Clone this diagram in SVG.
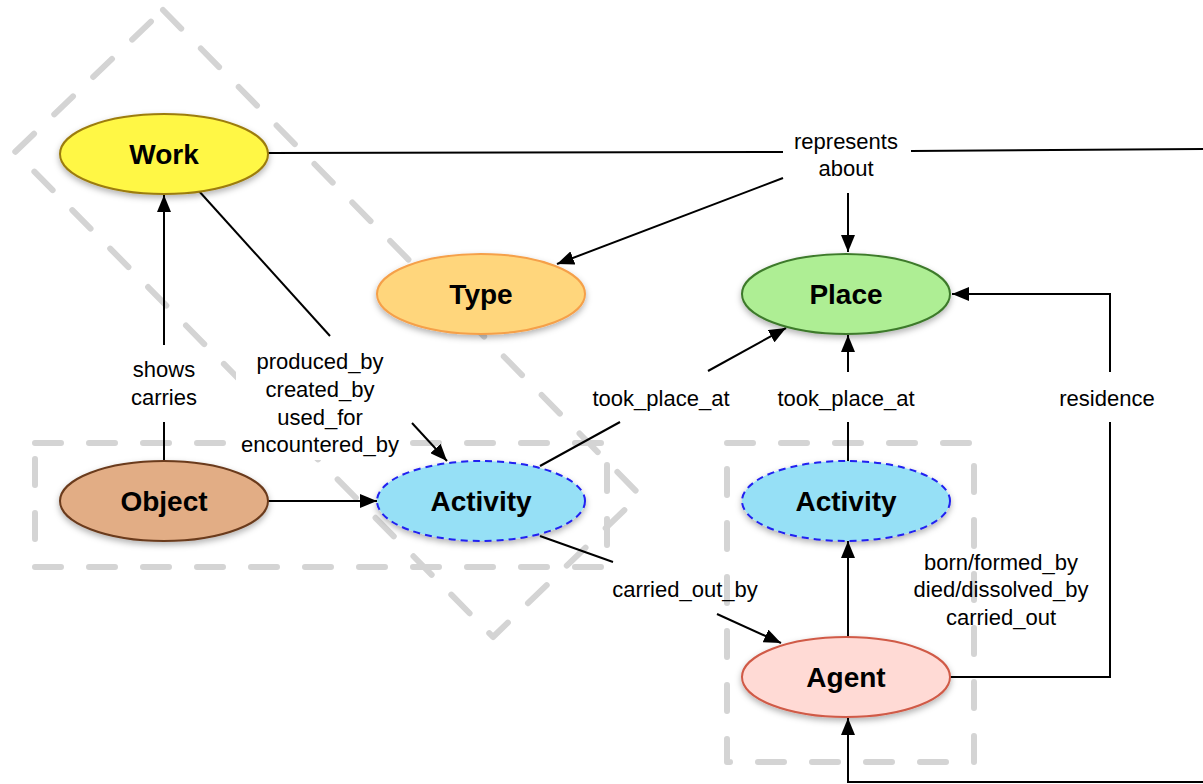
<svg xmlns="http://www.w3.org/2000/svg" width="1203" height="784" viewBox="0 0 1203 784">
<defs>
<style>
.grp{fill:none;stroke:#d4d4d4;stroke-width:6;stroke-dasharray:26 28;stroke-linecap:round;stroke-linejoin:round}
.ln{fill:none;stroke:#000;stroke-width:2}
.arr{marker-end:url(#ah)}
.nl{font-family:"Liberation Sans",Arial,sans-serif;font-weight:bold;font-size:28px;text-anchor:middle;fill:#000}
.el{font-family:"Liberation Sans",Arial,sans-serif;font-size:22px;text-anchor:middle;fill:#000}
.bg{fill:#fff}
</style>
<marker id="ah" viewBox="0 0 17 14" refX="17" refY="7" markerWidth="17" markerHeight="14" markerUnits="userSpaceOnUse" orient="auto"><path d="M0,0 L17,7 L0,14 z" fill="#000"/></marker>
<filter id="sh" x="-20%" y="-20%" width="140%" height="150%"><feDropShadow dx="0" dy="3" stdDeviation="3" flood-color="#000" flood-opacity="0.3"/></filter>
</defs>
<rect width="1203" height="784" fill="#fff"/>
<g id="groups">
<polygon class="grp" points="163,10 640,495 493,637 15,152"/>
<rect class="grp" x="35" y="443" width="572" height="124"/>
<rect class="grp" x="727" y="443" width="247" height="319"/>
</g>
<g id="connectors">
<line class="ln" x1="268" y1="153" x2="783" y2="152"/>
<line class="ln" x1="911" y1="151" x2="1203" y2="149"/>
<line class="ln arr" x1="783" y1="178" x2="557" y2="264"/>
<line class="ln arr" x1="848" y1="193" x2="848" y2="252"/>
<line class="ln" x1="198" y1="190" x2="330" y2="336"/>
<line class="ln arr" x1="412" y1="423" x2="447" y2="461"/>
<line class="ln" x1="164" y1="462" x2="164" y2="422"/>
<line class="ln arr" x1="164" y1="345" x2="164" y2="195"/>
<line class="ln arr" x1="268" y1="501" x2="377" y2="501"/>
<line class="ln" x1="540" y1="466" x2="620" y2="422"/>
<line class="ln arr" x1="708" y1="371" x2="786" y2="328"/>
<line class="ln" x1="848" y1="462" x2="848" y2="422"/>
<line class="ln arr" x1="848" y1="372" x2="848" y2="335"/>
<line class="ln" x1="540" y1="536" x2="613" y2="562"/>
<line class="ln arr" x1="717" y1="614" x2="781" y2="643"/>
<line class="ln arr" x1="848" y1="637" x2="848" y2="541"/>
<polyline class="ln" points="950,677 1110,677 1110,422"/>
<polyline class="ln arr" points="1110,372 1110,294 952,294"/>
<polyline class="ln arr" points="1203,782 848,782 848,718"/>
</g>
<g id="labels">
<rect class="bg" x="784" y="127" width="126" height="60"/>
<text class="el" x="846" y="149">represents</text>
<text class="el" x="846" y="176">about</text>
<rect class="bg" x="120" y="352" width="88" height="66"/>
<text class="el" x="164" y="377">shows</text>
<text class="el" x="164" y="405">carries</text>
<rect class="bg" x="236" y="344" width="170" height="116"/>
<text class="el" x="320" y="369">produced_by</text>
<text class="el" x="320" y="397">created_by</text>
<text class="el" x="320" y="425">used_for</text>
<text class="el" x="320" y="452">encountered_by</text>
<text class="el" x="661" y="406">took_place_at</text>
<text class="el" x="846" y="406">took_place_at</text>
<text class="el" x="1107" y="406">residence</text>
<text class="el" x="685" y="597">carried_out_by</text>
<text class="el" x="1001" y="570">born/formed_by</text>
<text class="el" x="1001" y="597">died/dissolved_by</text>
<text class="el" x="1001" y="625">carried_out</text>
</g>
<g id="node-work"><ellipse cx="164" cy="154" rx="104" ry="40" fill="#fff744" stroke="#9c7c10" stroke-width="2" filter="url(#sh)"/><text class="nl" x="164" y="164">Work</text></g>
<g id="node-type"><ellipse cx="481" cy="294" rx="104" ry="40" fill="#ffd67c" stroke="#f5a04a" stroke-width="2" filter="url(#sh)"/><text class="nl" x="481" y="304">Type</text></g>
<g id="node-place"><ellipse cx="846" cy="294" rx="104" ry="40" fill="#aeee94" stroke="#3e7a2c" stroke-width="2" filter="url(#sh)"/><text class="nl" x="846" y="304">Place</text></g>
<g id="node-object"><ellipse cx="164" cy="501" rx="104" ry="40" fill="#e2ad85" stroke="#6a3a1c" stroke-width="2" filter="url(#sh)"/><text class="nl" x="164" y="511">Object</text></g>
<g id="node-activity1"><ellipse cx="481" cy="501" rx="104" ry="40" fill="#96e0f6" stroke="#2020f0" stroke-width="2" stroke-dasharray="7 5" filter="url(#sh)"/><text class="nl" x="481" y="511">Activity</text></g>
<g id="node-activity2"><ellipse cx="846" cy="501" rx="104" ry="40" fill="#96e0f6" stroke="#2020f0" stroke-width="2" stroke-dasharray="7 5" filter="url(#sh)"/><text class="nl" x="846" y="511">Activity</text></g>
<g id="node-agent"><ellipse cx="846" cy="677" rx="104" ry="40" fill="#ffdad5" stroke="#d05a46" stroke-width="2" filter="url(#sh)"/><text class="nl" x="846" y="687">Agent</text></g>
</svg>
